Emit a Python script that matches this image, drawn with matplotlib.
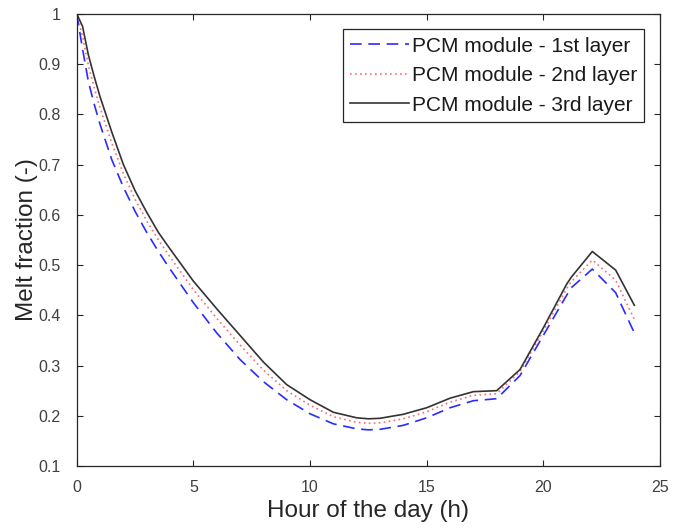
import matplotlib
matplotlib.use("Agg")
import matplotlib.pyplot as plt

plt.rcParams['font.family'] = ['Liberation Sans', 'DejaVu Sans']

hours = [0, 0.25, 0.5, 0.75, 1, 1.5, 2, 2.5, 3, 3.5, 4, 5, 6, 7, 8, 9, 10, 11, 12,
         12.5, 13, 14, 15, 16, 17, 18, 19, 20, 21, 21.2, 22.1, 23.1, 23.9]

layer1 = [1.0, 0.93, 0.865, 0.82, 0.78, 0.71, 0.655, 0.607, 0.565, 0.527, 0.492,
          0.425, 0.365, 0.312, 0.268, 0.232, 0.204, 0.184, 0.174, 0.172, 0.173,
          0.181, 0.196, 0.216, 0.23, 0.234, 0.28, 0.36, 0.44, 0.455, 0.492, 0.445, 0.365]

layer2 = [1.0, 0.955, 0.897, 0.853, 0.813, 0.743, 0.682, 0.631, 0.588, 0.55, 0.516,
          0.451, 0.394, 0.341, 0.291, 0.25, 0.221, 0.198, 0.187, 0.185, 0.186,
          0.194, 0.208, 0.227, 0.241, 0.244, 0.288, 0.369, 0.453, 0.467, 0.51, 0.47, 0.392]

layer3 = [1.0, 0.975, 0.918, 0.875, 0.835, 0.765, 0.70, 0.648, 0.605, 0.565, 0.532,
          0.468, 0.413, 0.36, 0.307, 0.262, 0.232, 0.207, 0.196, 0.194, 0.195,
          0.203, 0.216, 0.235, 0.248, 0.25, 0.292, 0.375, 0.462, 0.476, 0.527, 0.49, 0.42]

labels = ['PCM module - 1st layer', 'PCM module - 2nd layer', 'PCM module - 3rd layer']

xticks = [0, 5, 10, 15, 20, 25]
yticks = [0.1, 0.2, 0.3, 0.4, 0.5, 0.6, 0.7, 0.8, 0.9, 1.0]
ytick_labels = ['0.1', '0.2', '0.3', '0.4', '0.5', '0.6', '0.7', '0.8', '0.9', '1']

fig = plt.figure(figsize=(6.79, 5.32), dpi=100)
ax = fig.add_axes([0.113, 0.124, 0.859, 0.850])

grey = '#262626'
ax.plot(hours, layer1, color='#2b2bff', linestyle=(0, (7, 4)), linewidth=1.2, label=labels[0])
ax.plot(hours, layer2, color='#ff6b6b', linestyle=(0, (1, 2)), linewidth=1.2, label=labels[1])
ax.plot(hours, layer3, color='#333333', linestyle='-', linewidth=1.2, label=labels[2])

ax.set_xlim(0, 25)
ax.set_ylim(0.1, 1.0)
ax.set_xticks(xticks)
ax.set_xticklabels([str(v) for v in xticks])
ax.set_yticks(yticks)
ax.set_yticklabels(ytick_labels)

ax.tick_params(direction='in', top=True, right=True, length=4, width=0.8,
               colors=grey, labelsize=11.5, labelcolor='#404040')
ax.tick_params(axis='y', pad=11.5)
ax.tick_params(axis='x', pad=10)
for s in ax.spines.values():
    s.set_color(grey)
    s.set_linewidth(0.9)

ax.set_xlabel('Hour of the day (h)', fontsize=17.5, color=grey, labelpad=4)
ax.set_ylabel('Melt fraction (-)', fontsize=17.5, color=grey, labelpad=0)

leg = ax.legend(loc='upper right', fontsize=15, handlelength=2.8, handletextpad=0.15,
                borderpad=0.35, labelspacing=0.5, fancybox=False, framealpha=1,
                edgecolor=grey, borderaxespad=0.75)
leg.get_frame().set_linewidth(0.9)
for t in leg.get_texts():
    t.set_color('#1a1a1a')

fig.savefig('out.png', dpi=100)
